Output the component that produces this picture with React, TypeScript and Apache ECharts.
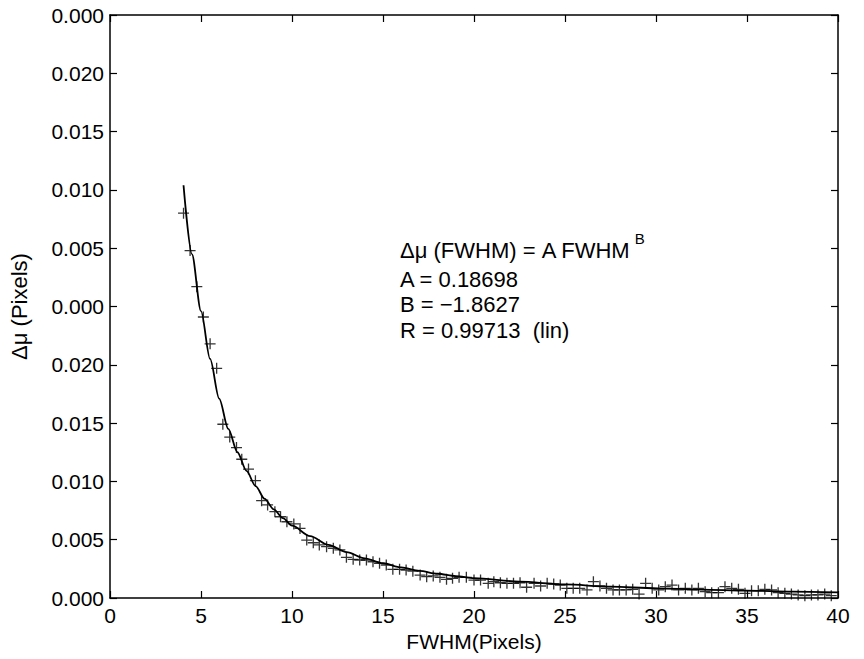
import React, { useEffect, useRef } from 'react';
import * as echarts from 'echarts';

// Measured points (FWHM in pixels, Δμ in axis units)
const fwhm = [
  4.04, 4.40, 4.77, 5.13, 5.50, 5.86,
  6.20, 6.58, 6.95, 7.24, 7.61, 7.99, 8.33, 8.66, 9.06, 9.37, 9.72, 10.10,
  10.44, 10.81, 11.17, 11.50, 11.90, 12.27, 12.63, 12.99, 13.36, 13.72,
  14.09, 14.45, 14.81, 15.18, 15.54, 15.91, 16.27, 16.64, 17.04, 17.40,
  17.76, 18.13, 18.49, 18.82, 19.18, 19.58, 20.00, 20.36, 20.78, 21.09,
  21.45, 21.81, 22.17, 22.53, 22.89, 23.30, 23.66, 24.02, 24.38, 24.74,
  25.10, 25.45, 25.81, 26.21, 26.56, 26.92, 27.28, 27.64, 27.99, 28.36,
  28.72, 29.07, 29.43, 29.79, 30.15, 30.51,
  30.88, 31.24, 31.61, 31.97, 32.33, 32.70, 33.06, 33.43, 33.79, 34.16,
  34.53, 34.89, 35.25, 35.62, 35.98, 36.35, 36.71, 37.08, 37.44, 37.81,
  38.18, 38.54, 38.90, 39.27, 39.63,
];
const deltaMu = [
  0.0330, 0.0298, 0.0267, 0.0241, 0.0218, 0.0197,
  0.0149, 0.0138, 0.0129, 0.0119, 0.01106, 0.01006, 0.00835, 0.00798, 0.00740, 0.00697, 0.00654, 0.00635,
  0.00597, 0.00497, 0.00474, 0.00455, 0.00440, 0.00426, 0.00412, 0.00349, 0.00332, 0.00326,
  0.00326, 0.00311, 0.00297, 0.00283, 0.00246, 0.00246, 0.00240, 0.00230, 0.00197, 0.00183,
  0.00189, 0.00177, 0.00160, 0.00169, 0.00177, 0.00177, 0.00154, 0.00154, 0.00126, 0.00140,
  0.00131, 0.00126, 0.00126, 0.00131, 0.00092, 0.00126, 0.00103, 0.00126, 0.00120, 0.00111,
  0.00083, 0.00083, 0.00083, 0.00069, 0.00140, 0.00103, 0.00083, 0.00069, 0.00069, 0.00069,
  0.00074, 0.00034, 0.00126, 0.00083, 0.00069, 0.00097,
  0.00111, 0.00069, 0.00083, 0.00069, 0.00083, 0.00054, 0.00046, 0.00046, 0.00097, 0.00083,
  0.00074, 0.00040, 0.00063, 0.00063, 0.00074, 0.00069, 0.00046, 0.00040, 0.00034, 0.00026,
  0.00020, 0.00026, 0.00026, 0.00034, 0.00020,
];

// Fitted curve
const fitFwhm = [
  4.04, 4.5, 5.0, 5.5, 6.0, 6.5, 7.0, 7.5, 8.0, 8.5,
  9.0, 9.5, 10, 11, 12, 13, 14, 15, 16, 17,
  18, 19, 20, 22.5, 25, 27.5, 30, 32.5, 35, 37.5, 40,
];
const fitDeltaMu = [
  0.0354, 0.0295, 0.0246, 0.0205, 0.0171, 0.0145, 0.0125, 0.0109, 0.0096, 0.0085,
  0.0076, 0.00685, 0.0062, 0.0053, 0.00455, 0.00393, 0.0034, 0.00298, 0.00263, 0.00233,
  0.00208, 0.00188, 0.00171, 0.00140, 0.00116, 0.00097, 0.00083, 0.00072, 0.00063, 0.00055, 0.00049,
];

const yTickLabels = [
  '0.000', '0.005', '0.010', '0.015', '0.020', '0.000',
  '0.005', '0.010', '0.015', '0.020', '0.000',
];
const xTitle = 'FWHM(Pixels)';
const yTitle = 'Δμ (Pixels)';
const formulaMain = 'Δμ (FWHM) = A FWHM';
const formulaSup = 'B';
const annotationLines = ['A = 0.18698', 'B = \u22121.8627', 'R = 0.99713  (lin)'];

export default function App() {
  const ref = useRef<HTMLDivElement>(null);
  useEffect(() => {
    document.body.style.margin = '0';
    const chart = echarts.init(ref.current!, null, { renderer: 'svg' });
    const font = '"Liberation Sans", Arial, Helvetica, sans-serif';
    const plus = 'path://M0,6H12M6,0V12';

    const mainSize = 22;
    const measure = new echarts.graphic.Text({
      style: { text: formulaMain, fontSize: mainSize, fontFamily: font },
    });
    const mainWidth = measure.getBoundingRect().width;

    const textX = 400;
    const axisCommon = {
      min: 0,
      splitLine: { show: false },
      axisLine: { show: true, onZero: false, lineStyle: { color: '#000', width: 1.5 } },
      axisTick: { show: true, inside: true, length: 7, lineStyle: { color: '#000', width: 1.2 } },
    };

    const option = {
      animation: false,
      backgroundColor: '#fff',
      grid: { left: 108, right: 26, top: 15, bottom: 61 },
      xAxis: [
        {
          ...axisCommon,
          type: 'value',
          max: 40,
          interval: 5,
          position: 'bottom',
          name: xTitle,
          nameLocation: 'middle',
          nameGap: 30,
          nameTextStyle: { fontSize: 21, fontFamily: font, color: '#000' },
          axisLabel: { fontSize: 21, fontFamily: font, color: '#000', margin: 7 },
        },
        {
          ...axisCommon,
          type: 'value',
          max: 40,
          interval: 5,
          position: 'top',
          axisLabel: { show: false },
        },
      ],
      yAxis: [
        {
          ...axisCommon,
          type: 'value',
          max: 0.05,
          interval: 0.005,
          position: 'left',
          name: yTitle,
          nameLocation: 'middle',
          nameGap: 80,
          nameTextStyle: { fontSize: 22, fontFamily: font, color: '#000' },
          axisLabel: {
            fontSize: 21,
            fontFamily: font,
            color: '#000',
            margin: 6,
            formatter: (v: number) => yTickLabels[Math.round(v / 0.005)] ?? '',
          },
        },
        {
          ...axisCommon,
          type: 'value',
          max: 0.05,
          interval: 0.005,
          position: 'right',
          axisLabel: { show: false },
        },
      ],
      series: [
        {
          type: 'line',
          data: fitFwhm.map((x, i) => [x, fitDeltaMu[i]]),
          showSymbol: false,
          smooth: 0.3,
          smoothMonotone: 'x',
          lineStyle: { color: '#000', width: 1.8 },
          z: 3,
        },
        {
          type: 'scatter',
          data: fwhm.map((x, i) => [x, deltaMu[i]]),
          symbol: plus,
          symbolSize: 11,
          itemStyle: { color: 'transparent', borderColor: '#000', borderWidth: 1.3 },
          z: 4,
        },
      ],
      graphic: [
        {
          type: 'text',
          x: textX,
          y: 250,
          style: {
            text: formulaMain,
            fontSize: mainSize,
            fontFamily: font,
            fill: '#000',
            verticalAlign: 'middle',
          },
        },
        {
          type: 'text',
          x: textX + mainWidth + 4,
          y: 238,
          style: {
            text: formulaSup,
            fontSize: 15,
            fontFamily: font,
            fill: '#000',
            verticalAlign: 'middle',
          },
        },
        ...annotationLines.map((t, i) => ({
          type: 'text',
          x: textX,
          y: 279 + i * 25.5,
          style: {
            text: t,
            fontSize: mainSize,
            fontFamily: font,
            fill: '#000',
            verticalAlign: 'middle',
          },
        })),
      ],
    };
    chart.setOption(option as any);
    return () => chart.dispose();
  }, []);
  return <div ref={ref} style={{ width: 864, height: 659 }} />;
}
